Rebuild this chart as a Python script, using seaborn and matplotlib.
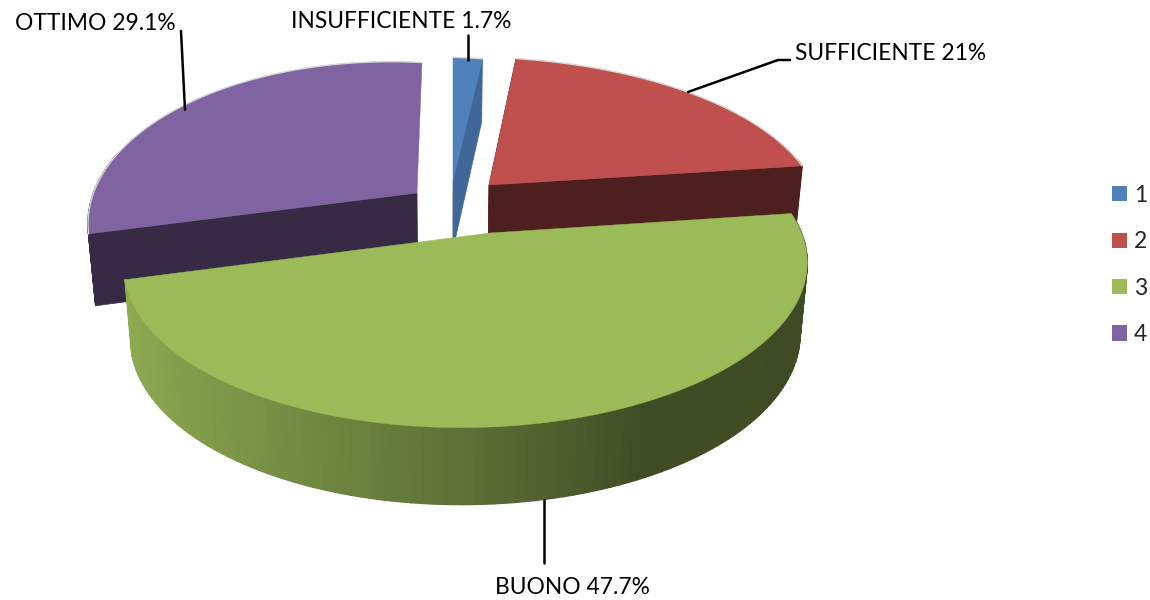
import numpy as np
import matplotlib
matplotlib.use("Agg")
import matplotlib.pyplot as plt
from matplotlib.collections import PolyCollection
from matplotlib.patches import Patch
import seaborn as sns

# data
names = ["INSUFFICIENTE", "SUFFICIENTE", "BUONO", "OTTIMO"]
percent = [1.7, 21, 47.7, 29.1]
percent_text = ["1.7%", "21%", "47.7%", "29.1%"]
legend_labels = ["1", "2", "3", "4"]
base_colors = ["#4F81BD", "#C0504D", "#9BBB59", "#8064A2"]

# layout (pixels)
apex_x = [453, 489, 490, 417]
apex_y = [180, 185, 233, 193]
scale_x = [1.0, 1.052, 1.01, 0.905]
scale_y = [0.94, 0.98, 1.0, 1.0]
shear_x = [0, -4, 0, 5]
tilt_y = [0, 0, 0, 6]
radial_shade = [0.80, 0.40, 0.40, 0.42]
radial_sides = [[-1], [0, -1], [], [0]]
label_x = [291, 795, 495, 15]
label_y = [21, 53, 587, 24]
A, B, P, Q = 330.0, 156.0, 0.196, 0.07
WALL, WALL_K, VX, VK = 70.0, 0.10, 446.0, 0.02

sns.set_theme(style="white")
plt.rcParams["font.family"] = ["Lato", "DejaVu Sans"]
palette = sns.color_palette(base_colors)

fig = plt.figure(figsize=(11.5, 6), dpi=100)
ax = fig.add_axes([0, 0, 1, 1])
ax.set_xlim(0, 1150)
ax.set_ylim(600, 0)
ax.axis("off")


def top_xy(i, u, v):
    w = 1 + P * v + Q * u
    x = apex_x[i] + scale_x[i] * A * u / w + shear_x[i] * v
    y = apex_y[i] - scale_y[i] * B * v / w + tilt_y[i] * u
    return x, y


def low_xy(i, u, v, x, y):
    return x + (VX - x) * VK, y + WALL * (1 - WALL_K * v)


def green_shade(u):
    return np.interp(u, [-1, -0.5, 0, 0.4, 1], [0.93, 0.76, 0.58, 0.41, 0.40])


bounds = np.concatenate([[0], np.cumsum(percent)]) / np.sum(percent) * 2 * np.pi
draw_order = [3, 1, 0, 2]
for i in draw_order:
    th = np.linspace(bounds[i], bounds[i + 1], 120)
    u, v = np.sin(th), np.cos(th)
    x, y = top_xy(i, u, v)
    xl, yl = low_xy(i, u, v, x, y)
    col = np.array(palette[i])

    # outer wall, cut into strips so that it can carry the shading;
    # strips on the far side of the disc are hidden and left out
    quads, cols = [], []
    for k in range(len(th) - 1):
        if i != 2 and v[k] > 0.2:
            continue
        quads.append([(x[k], y[k]), (x[k + 1], y[k + 1]), (xl[k + 1], yl[k + 1]), (xl[k], yl[k])])
        s = green_shade(u[k]) if i == 2 else radial_shade[i]
        cols.append(tuple(col * s))
    if quads:
        ax.add_collection(PolyCollection(quads, facecolors=cols, edgecolors=cols, linewidths=1.0))

    # the radial walls that face the viewer
    ax0, ay0 = top_xy(i, 0.0, 0.0)
    bx0, by0 = low_xy(i, 0.0, 0.0, ax0, ay0)
    for j in radial_sides[i]:
        ax.fill([ax0, x[j], xl[j], bx0], [ay0, y[j], yl[j], by0],
                color=tuple(col * radial_shade[i]), lw=0.5)

    # faint light rim, then the top face
    if i != 2:
        ax.plot(x, y, color="#d8d8d8", lw=1.0, solid_capstyle="round")
    ax.fill(np.r_[ax0, x], np.r_[ay0, y], color=tuple(col), lw=0.3)

# leader lines
leader_color = "black"
ax.plot([181, 185], [31, 110], color=leader_color, lw=1.8)
ax.plot([468, 468], [35, 60], color=leader_color, lw=1.8)
ax.plot([688, 778, 790], [92, 60, 60], color=leader_color, lw=1.8)
ax.plot([544, 544], [500, 563], color=leader_color, lw=1.8)

for i in range(4):
    ax.text(label_x[i], label_y[i], f"{names[i]} {percent_text[i]}",
            fontsize=16.4, color="black", va="center", ha="left")

handles = [Patch(facecolor=palette[i], edgecolor="none") for i in range(4)]
ax.legend(handles, legend_labels, loc="center left", bbox_to_anchor=(1112 / 1150, 1 - 265 / 600),
          frameon=False, fontsize=16.5, handlelength=0.655, handleheight=0.655,
          handletextpad=0.3, labelspacing=1.11, borderpad=0, borderaxespad=0)

fig.savefig("out.png", dpi=100)
